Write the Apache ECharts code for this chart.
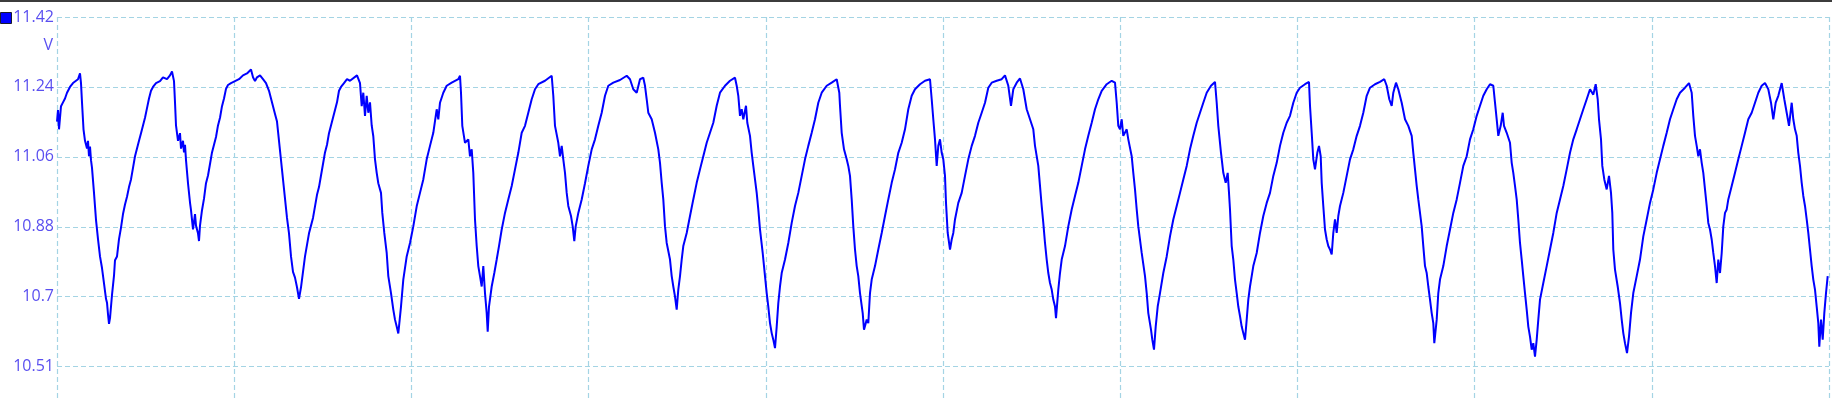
<!DOCTYPE html>
<html>
<head>
<meta charset="utf-8">
<script src="https://cdn.jsdelivr.net/npm/echarts@6.0.0/dist/echarts.min.js"></script>
<style>
html,body{margin:0;padding:0;background:#fff;}
#chart{width:1832px;height:400px;}
</style>
</head>
<body>
<div id="chart"></div>
<script>
// y-axis tick positions (V) and their printed labels
const yTickValues = [10.514, 10.6955, 10.877, 11.0585, 11.24, 11.4215];
const yTickLabels = ['10.51', '10.7', '10.88', '11.06', '11.24', '11.42'];
const yUnit = 'V';
const yMin = 10.4274;
const yMax = 11.4215;
// x axis: sample position, 10 divisions
const xMin = 0;
const xMax = 1772;
const xDivision = 177.2;

// waveform samples [t, volts] in six stretches
const seg1 = [[0,11.15],[1,11.18],[2,11.13],[4,11.19],[6,11.2],[8,11.21],[10,11.225],[13,11.24],[16,11.25],[18,11.255],[21,11.26],[23,11.275],[24,11.25],[25,11.2],[26.5,11.13],[28,11.1],[30,11.08],[31,11.1],[32,11.06],[33,11.085],[34,11.05],[35,11.03],[37,10.965],[39,10.895],[41,10.845],[43,10.8],[45,10.77],[47,10.73],[49,10.69],[50,10.68],[51,10.65],[52,10.625],[53,10.64],[54,10.67],[55,10.7],[57,10.75],[58,10.79],[60,10.8],[62,10.845],[64,10.875],[66,10.91],[68,10.935],[70,10.955],[72,10.98],[74,11.0],[76,11.03],[78,11.06],[80,11.08],[82,11.1],[84,11.12],[86,11.14],[88,11.16],[90,11.185],[92,11.21],[94,11.23],[96,11.24],[99,11.25],[103,11.255],[106,11.265],[110,11.26],[113,11.27],[115,11.28],[117,11.255],[118,11.2],[119,11.14],[121,11.1],[123,11.12],[124,11.08],[126,11.1],[127,11.07],[128,11.09],[129,11.05],[131,10.99],[133,10.94],[134,10.92],[136,10.87],[138,10.91],[139,10.88],[141,10.86],[142,10.84],[143,10.88],[145,10.92],[147,10.95],[149,10.99],[151,11.01],[153,11.04],[155,11.07],[157,11.09],[159,11.11],[161,11.14],[163,11.16],[165,11.19],[167,11.21],[169,11.235],[171,11.245],[174,11.25],[178,11.255],[182,11.26],[186,11.27],[190,11.275],[194,11.285],[196,11.265],[198,11.255],[200,11.265],[203,11.27],[206,11.26],[209,11.25],[212,11.23],[214,11.21],[216,11.19],[218,11.17],[220,11.15],[222,11.1],[224,11.05],[226,11.0],[228,10.95],[230,10.9],[232,10.86],[234,10.8],[236,10.76],[238,10.745],[240,10.72],[242,10.69],[244,10.72],[246,10.76],[248,10.8],[250,10.83],[252,10.86],[254,10.88],[256,10.9],[258,10.93],[260,10.96],[262,10.98],[264,11.01],[266,11.04],[268,11.07],[270,11.09],[272,11.12],[274,11.14],[276,11.16],[278,11.18],[280,11.2],[282,11.23],[284,11.24],[287,11.25],[290,11.26]];
const seg2 = [[293,11.256],[300,11.27],[303,11.25],[304.7,11.19],[306.3,11.225],[308,11.165],[309.7,11.217],[311.3,11.173],[313,11.2],[314.7,11.14],[316.3,11.112],[318,11.052],[319.7,11.017],[321.3,10.99],[324,10.965],[325.3,10.913],[327.3,10.861],[329.7,10.809],[331.3,10.749],[334,10.705],[336.3,10.662],[338,10.636],[339.7,10.618],[341.3,10.6],[342.7,10.636],[344,10.67],[346.3,10.74],[349.7,10.8],[353,10.835],[356.3,10.878],[359.7,10.93],[363,10.965],[366.3,11.0],[369.7,11.052],[373,11.087],[376.3,11.121],[379.7,11.182],[381.3,11.156],[383,11.199],[386.3,11.225],[389.7,11.243],[394.7,11.251],[401.3,11.26],[403,11.269],[404,11.225],[405.3,11.139],[408,11.095],[411.3,11.104],[413,11.06],[414.7,11.078],[416.3,11.017],[418,10.896],[419.7,10.827],[421.3,10.775],[423,10.749],[424.7,10.722],[426.3,10.775],[428,10.705],[429.7,10.653],[430.7,10.605],[432,10.67],[434.7,10.722],[437.3,10.757],[439.7,10.792],[442,10.827],[444.7,10.87],[448,10.913],[451.3,10.948],[454.7,10.983],[458,11.026],[461.3,11.069],[464.7,11.121],[468,11.139],[471.3,11.173],[474.7,11.208],[478,11.234],[481.3,11.247],[488,11.256],[494.7,11.269],[496.3,11.217],[498,11.139],[501.3,11.095],[503,11.06],[504.7,11.087],[506.3,11.052],[508,11.017],[509.7,10.965],[511.3,10.931],[514,10.905],[515.7,10.878],[517.3,10.84],[518.7,10.878],[521.3,10.913],[524.7,10.948],[528,10.99],[531.3,11.035],[534.7,11.078],[538,11.104],[541.3,11.139],[544.7,11.173],[548,11.217],[551.3,11.243],[556.3,11.251],[563,11.258],[569.7,11.269],[573,11.26],[576.3,11.234],[579.7,11.225],[583,11.26],[586.3,11.264]];
const seg3 = [[588,11.243],[589.7,11.208],[591.3,11.173],[594.7,11.156],[598,11.121],[601.3,11.078],[603,11.043],[604.7,10.991],[606.3,10.948],[608,10.878],[609.7,10.835],[613,10.792],[614.7,10.749],[616.3,10.722],[618,10.696],[619.7,10.662],[621.3,10.714],[623,10.749],[624.7,10.792],[626.3,10.827],[629.7,10.861],[633,10.905],[636.3,10.948],[639.7,10.991],[643,11.026],[646.3,11.06],[649.7,11.095],[653,11.121],[656.3,11.147],[659.7,11.191],[663,11.225],[668,11.243],[673,11.256],[678,11.264],[679.7,11.243],[681.3,11.217],[683,11.165],[684.7,11.182],[686.3,11.156],[689,11.191],[690.3,11.147],[693,11.113],[694.7,11.069],[696.3,11.035],[698,11.0],[699.7,10.965],[701.3,10.922],[703,10.87],[705.7,10.809],[708,10.749],[709.7,10.705],[711.3,10.67],[713,10.627],[714.7,10.601],[716.3,10.584],[718,10.562],[719.7,10.618],[721.3,10.679],[723,10.722],[724.7,10.757],[728,10.792],[731.3,10.835],[734.7,10.887],[738,10.931],[741.3,10.965],[744.7,11.009],[748,11.052],[751.3,11.087],[754.7,11.121],[758,11.156],[761.3,11.199],[764.7,11.225],[769.7,11.243],[774.7,11.251],[779.7,11.26],[782.3,11.225],[783,11.191],[784.7,11.121],[787,11.078],[789.7,11.052],[791.3,11.035],[793,11.009],[794.7,10.948],[796.3,10.878],[798,10.818],[799.7,10.775],[801.3,10.749],[803,10.705],[805.7,10.653],[807,10.61],[809.7,10.636],[811.3,10.627],[813,10.705],[814.7,10.74],[818,10.775],[821.3,10.818],[824.7,10.861],[828,10.905],[831.3,10.948],[834.7,10.991],[838,11.026],[841.3,11.069],[844.7,11.095],[848,11.13],[851.3,11.182],[854.7,11.217],[858,11.234],[863,11.247],[868,11.256],[873,11.26],[874.7,11.208],[876.3,11.156]];
const seg4 = [[878,11.104],[879.7,11.035],[881.3,11.087],[883,11.104],[884.7,11.069],[886.3,11.052],[888,11.009],[889,10.939],[890.7,10.861],[893,10.818],[894.7,10.844],[896.3,10.861],[898,10.896],[901.3,10.939],[904.7,10.965],[908,11.009],[911.3,11.052],[914.7,11.087],[918,11.113],[921.3,11.147],[924.7,11.173],[928,11.199],[931.3,11.238],[934.7,11.251],[939.7,11.256],[944.7,11.26],[948,11.27],[951.3,11.243],[954,11.191],[956.3,11.234],[959.7,11.251],[963,11.262],[966.3,11.234],[969.7,11.182],[973,11.156],[976.3,11.13],[978,11.087],[981.3,11.035],[983,10.983],[984.7,10.931],[986.3,10.887],[988,10.835],[989.7,10.792],[991.3,10.757],[993,10.731],[994.7,10.714],[996.3,10.688],[998,10.67],[999,10.64],[1001.3,10.714],[1003,10.757],[1004.7,10.792],[1008,10.827],[1011.3,10.878],[1014.7,10.922],[1018,10.957],[1021.3,10.991],[1024.7,11.035],[1028,11.078],[1031.3,11.113],[1034.7,11.147],[1038,11.182],[1041.3,11.208],[1044.7,11.23],[1049.7,11.247],[1054.7,11.256],[1058,11.251],[1059.7,11.199],[1061.3,11.139],[1063,11.13],[1064.7,11.156],[1066.3,11.113],[1069.7,11.13],[1071.3,11.104],[1074.7,11.06],[1076.3,11.017],[1078,10.974],[1079.7,10.922],[1081.3,10.878],[1084.7,10.809],[1088,10.749],[1089.7,10.705],[1091.3,10.653],[1094,10.61],[1095.3,10.584],[1097,10.558],[1098.7,10.618],[1100.7,10.67],[1103,10.705],[1106.3,10.757],[1109.7,10.8],[1113,10.852],[1116.3,10.896],[1119.7,10.931],[1123,10.965],[1126.3,11.0],[1129.7,11.035],[1133,11.078],[1136.3,11.113],[1139.7,11.147],[1143,11.173],[1146.3,11.199],[1149.7,11.225],[1154,11.243],[1158,11.253],[1159.7,11.199],[1161.3,11.139],[1164,11.069],[1166.3,11.017],[1168.7,10.991],[1170.7,11.017],[1172,10.965]];
const seg5 = [[1173,10.922],[1174.7,10.827],[1176.3,10.792],[1178,10.74],[1179.7,10.705],[1181.3,10.67],[1183,10.645],[1184.7,10.618],[1186.3,10.601],[1188,10.584],[1189.7,10.636],[1191.3,10.688],[1193,10.722],[1194.7,10.749],[1196.3,10.775],[1199.7,10.809],[1203,10.861],[1206.3,10.905],[1209.7,10.939],[1213,10.965],[1216.3,11.009],[1219.7,11.043],[1223,11.087],[1226.3,11.121],[1229.7,11.147],[1233,11.165],[1236.3,11.199],[1239.7,11.225],[1243,11.238],[1248,11.247],[1252,11.253],[1253,11.191],[1254.7,11.121],[1256.3,11.052],[1258,11.026],[1260.3,11.069],[1262,11.087],[1263.7,11.06],[1264.7,10.991],[1266.3,10.931],[1268,10.87],[1269.7,10.844],[1271.3,10.827],[1273,10.818],[1274.7,10.805],[1276.3,10.861],[1278,10.896],[1279.7,10.861],[1281.3,10.905],[1283,10.931],[1286.3,10.965],[1289.7,11.009],[1293,11.052],[1296.3,11.078],[1299.7,11.113],[1303,11.139],[1306.3,11.173],[1309.7,11.217],[1313,11.238],[1318,11.247],[1323,11.253],[1327.3,11.26],[1329.7,11.243],[1332.3,11.208],[1334.7,11.191],[1336.3,11.225],[1339,11.251],[1341.3,11.234],[1344.7,11.199],[1348,11.156],[1351.3,11.139],[1354.7,11.113],[1356.3,11.069],[1358,11.026],[1359.7,10.983],[1361.3,10.948],[1363,10.913],[1364.7,10.878],[1366.3,10.827],[1368,10.775],[1369.7,10.757],[1371.3,10.722],[1373,10.688],[1374.7,10.653],[1376.3,10.627],[1377.3,10.575],[1379.7,10.636],[1381.3,10.705],[1383,10.74],[1386.3,10.775],[1389.7,10.827],[1393,10.87],[1396.3,10.913],[1399.7,10.948],[1403,10.991],[1406.3,11.035],[1409.7,11.06],[1413,11.104],[1416.3,11.13],[1419.7,11.165],[1423,11.191],[1426.3,11.217],[1429.7,11.234],[1433,11.247],[1436.3,11.243],[1438,11.199],[1439.7,11.156],[1441.3,11.113],[1443.7,11.139],[1445.7,11.173],[1447,11.139],[1449.7,11.121],[1453,11.095],[1454.7,11.043],[1456.3,11.017],[1458,10.983],[1459.7,10.948],[1461.3,10.896],[1463,10.835],[1464.7,10.792],[1466.3,10.749]];
const seg6 = [[1468,10.705],[1469.7,10.662],[1471.3,10.618],[1473,10.592],[1474.7,10.558],[1476.3,10.575],[1478,10.54],[1479.7,10.584],[1481.3,10.636],[1483,10.688],[1486.3,10.731],[1489.7,10.775],[1493,10.818],[1496.3,10.861],[1499.7,10.913],[1503,10.948],[1506.3,10.983],[1509.7,11.026],[1513,11.069],[1516.3,11.104],[1519.7,11.13],[1523,11.156],[1526.3,11.182],[1529.7,11.208],[1533,11.234],[1536.3,11.22],[1538.7,11.247],[1540.7,11.208],[1542,11.156],[1544,11.104],[1545.3,11.035],[1547.3,11.0],[1549.7,10.974],[1552,11.009],[1554,10.965],[1555.3,10.913],[1556.3,10.818],[1558,10.766],[1560.7,10.722],[1563,10.679],[1564.7,10.636],[1566.3,10.601],[1568,10.575],[1570,10.549],[1572,10.592],[1574,10.653],[1576.3,10.705],[1579.7,10.749],[1583,10.792],[1586.3,10.852],[1589.7,10.896],[1593,10.939],[1596.3,10.974],[1599.7,11.017],[1603,11.052],[1606.3,11.087],[1609.7,11.121],[1613,11.156],[1616.3,11.182],[1619.7,11.208],[1623,11.225],[1628,11.238],[1632,11.25],[1634.7,11.225],[1636.3,11.165],[1638,11.113],[1639.7,11.087],[1641.3,11.06],[1643,11.078],[1644.7,11.043],[1646.3,11.017],[1648,10.974],[1649.7,10.931],[1651.3,10.887],[1653,10.87],[1654.7,10.844],[1656.3,10.809],[1658,10.775],[1659.7,10.731],[1661.3,10.792],[1663,10.757],[1664.7,10.809],[1666.3,10.878],[1668,10.913],[1669.7,10.922],[1671.3,10.948],[1674.7,10.983],[1678,11.017],[1681.3,11.052],[1684.7,11.087],[1688,11.121],[1691.3,11.156],[1694.7,11.173],[1698,11.199],[1701.3,11.225],[1704.7,11.243],[1708,11.25],[1711.3,11.234],[1714,11.199],[1716.3,11.156],[1718.7,11.199],[1721.3,11.217],[1724.7,11.25],[1727.3,11.208],[1729.7,11.173],[1732,11.139],[1734.7,11.199],[1736.3,11.156],[1738,11.13],[1739.7,11.113],[1741.3,11.069],[1743,11.035],[1744.7,10.991],[1746.3,10.957],[1748,10.931],[1749.7,10.896],[1751.3,10.861],[1753,10.818],[1754.7,10.775],[1756.3,10.74],[1758,10.714],[1759.7,10.67],[1761.3,10.627],[1762.3,10.566],[1764,10.636],[1765.7,10.584],[1767.3,10.653],[1769,10.705],[1770.7,10.749]];

const waveform = [].concat(seg1, seg2, seg3, seg4, seg5, seg6);

const chart = echarts.init(document.getElementById('chart'), null, {renderer: 'canvas'});
const gridLine = {show: true, lineStyle: {color: '#a4d4e4', type: [5, 3], width: 1.2}};
const option = {
  animation: false,
  backgroundColor: '#ffffff',
  grid: {left: 57, right: 3, top: 17, bottom: 0, containLabel: false},
  xAxis: {
    type: 'value', min: xMin, max: xMax, interval: xDivision,
    axisLine: {show: false}, axisTick: {show: false}, axisLabel: {show: false},
    splitLine: gridLine
  },
  yAxis: {
    type: 'value', min: yMin, max: yMax,
    axisLine: {show: false},
    axisTick: {show: false, customValues: yTickValues},
    axisLabel: {
      customValues: yTickValues,
      formatter: function (v) {
        let best = 0;
        for (let i = 1; i < yTickValues.length; i++) {
          if (Math.abs(yTickValues[i] - v) < Math.abs(yTickValues[best] - v)) best = i;
        }
        return yTickLabels[best];
      },
      color: '#5a4ff0', fontFamily: 'Open Sans', fontSize: 16, margin: 3,
      showMinLabel: true, showMaxLabel: true
    },
    splitLine: gridLine
  },
  graphic: [
    {type: 'rect', shape: {x: 0, y: 0, width: 1832, height: 2}, style: {fill: '#3c3c3c'}, z: 100},
    {type: 'rect', shape: {x: 0.5, y: 12.5, width: 11, height: 11}, style: {fill: '#0000ff', stroke: '#1a1a2e', lineWidth: 1}, z: 100},
    {type: 'text', x: 53, y: 45, style: {text: yUnit, align: 'right', verticalAlign: 'middle', fill: '#5a4ff0', font: '16px "Open Sans"'}, z: 100}
  ],
  series: [{
    type: 'line', data: waveform, showSymbol: false, symbol: 'none', silent: true,
    lineStyle: {color: '#0000ff', width: 2}, clip: true
  }]
};
chart.setOption(option);
</script>
</body>
</html>
